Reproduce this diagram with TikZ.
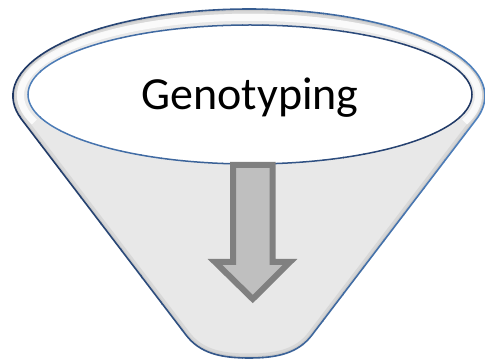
\documentclass[tikz,border=0pt]{standalone}
\usepackage{fontspec}
\setmainfont{Carlito}
\definecolor{rimdark}{RGB}{30,54,98}
\definecolor{rimlight}{RGB}{79,129,189}
\definecolor{bodyfill}{RGB}{232,232,232}
\definecolor{arrowfill}{RGB}{191,191,191}
\definecolor{arrowline}{RGB}{128,128,128}
\def\bodypath{(21.7,241.5) arc[start angle=195.65, end angle=-15.65, x radius=236, y radius=87]
  -- (312,26) .. controls (298.3,8) and (278,3) .. (249,3)
  .. controls (220,3) and (199.7,8) .. (186,26) -- cycle}
\def\innerpath{(250,266.5) ellipse[x radius=222, y radius=69.5]}
\tikzset{
  arrowshape/.style={draw=arrowline, fill=arrowfill, line width=6pt, line join=miter},
  label/.style={font=\fontsize{46}{52}\selectfont, inner sep=0pt, anchor=base},
}
\begin{document}
\begin{tikzpicture}[x=1pt,y=1pt]
\useasboundingbox (0,0) rectangle (485,361);
% funnel body
\fill[bodyfill] \bodypath;
% inner shadow
\begin{scope}
  \clip \bodypath;
  \draw[gray, opacity=0.15, line width=9pt] \bodypath;
  \draw[gray, opacity=0.15, line width=4pt] \bodypath;
\end{scope}
% rim highlight
\begin{scope}
  \clip \bodypath;
  \draw[white, opacity=0.8, line width=7pt] (249.5,265.7) ++(200:229 and 78) arc[start angle=200, end angle=-20, x radius=229, y radius=78];
\end{scope}
% inner opening
\fill[white] \innerpath;
% gradient strokes
\foreach \i in {0,...,23} {
  \pgfmathtruncatemacro\p{100*\i/23}
  \begin{scope}
    \clip ({\i*485/24-0.3},-5) rectangle ({(\i+1)*485/24+0.3},370);
    \draw[line width=1.6pt, draw=rimlight!\p!rimdark] \bodypath;
    \draw[line width=1.5pt, draw=rimdark!\p!rimlight] \innerpath;
  \end{scope}
}
% arrow
\draw[arrowshape] (233,196) -- (272.5,196) -- (272.5,99) -- (290,99)
  -- (252.75,62) -- (215,99) -- (233,99) -- cycle;
% text
\node[label] (title) at (250,251) {Genotyping};
\end{tikzpicture}
\end{document}
